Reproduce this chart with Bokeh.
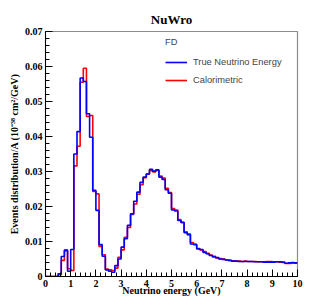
import numpy as np
from bokeh.plotting import figure
from bokeh.models import FixedTicker, Legend, LegendItem, Range1d, NumeralTickFormatter
from bokeh.embed import file_html
from bokeh.resources import INLINE

# ---- data ----
bin_width = 0.125
n_bins = 80
true_energy = [
    0.0, 0.0, 0.0, 0.0, 0.0008, 0.0057, 0.0074, 0.0015, 0.0077, 0.0350,
    0.0414, 0.0567, 0.0557, 0.0465, 0.0398, 0.0246, 0.0189, 0.0091, 0.0058, 0.0019,
    0.0015, 0.0012, 0.0031, 0.0050, 0.0084, 0.0108, 0.0146, 0.0179, 0.0215, 0.0241,
    0.0269, 0.0284, 0.0293, 0.0306, 0.0301, 0.0305, 0.0284, 0.0277, 0.0248, 0.0238,
    0.0190, 0.0187, 0.0160, 0.0155, 0.0125, 0.0121, 0.0093, 0.0091, 0.0079, 0.0077,
    0.0069, 0.0065, 0.0060, 0.0056, 0.0054, 0.0050, 0.0049, 0.0047, 0.0046, 0.0044,
    0.0044, 0.0043, 0.0043, 0.0043, 0.0043, 0.0043, 0.0042, 0.0042, 0.0042, 0.0041,
    0.0041, 0.0041, 0.0041, 0.0042, 0.0042, 0.0041, 0.0038, 0.0039, 0.0040, 0.0039,
]
calorimetric = [
    0.0, 0.0, 0.0, 0.0, 0.0005, 0.0046, 0.0076, 0.0022, 0.0017, 0.0316,
    0.0372, 0.0555, 0.0595, 0.0457, 0.0460, 0.0243, 0.0236, 0.0086, 0.0062, 0.0021,
    0.0019, 0.0017, 0.0024, 0.0055, 0.0076, 0.0112, 0.0140, 0.0177, 0.0207, 0.0235,
    0.0262, 0.0282, 0.0293, 0.0302, 0.0299, 0.0303, 0.0287, 0.0281, 0.0252, 0.0240,
    0.0194, 0.0190, 0.0163, 0.0154, 0.0128, 0.0119, 0.0097, 0.0092, 0.0080, 0.0076,
    0.0071, 0.0066, 0.0061, 0.0058, 0.0053, 0.0051, 0.0050, 0.0048, 0.0046, 0.0045,
    0.0044, 0.0044, 0.0043, 0.0044, 0.0043, 0.0043, 0.0043, 0.0042, 0.0042, 0.0042,
    0.0043, 0.0043, 0.0042, 0.0042, 0.0041, 0.0040, 0.0037, 0.0037, 0.0038, 0.0038,
]
x_major_ticks = [0, 1, 2, 3, 4, 5, 6, 7, 8, 9, 10]
y_major_ticks = [0.0, 0.01, 0.02, 0.03, 0.04, 0.05, 0.06, 0.07]
series_labels = ["True Neutrino Energy", "Calorimetric"]
legend_header = "FD"
title_text = "NuWro"
x_title = "Neutrino energy (GeV)"
y_title = "Events distribution/A (10\u207b\u00b3\u2078 cm\u00b2/GeV)"

edges = [i * bin_width for i in range(n_bins + 1)]
x_minor = [i * 0.2 for i in range(51)]
y_minor = [i * 0.002 for i in range(36)]

serif = "Liberation Serif"
sans = "Liberation Sans"

p = figure(width=315, height=307, output_backend="svg", toolbar_location=None,
           x_range=Range1d(0, 10), y_range=Range1d(0, 0.07),
           min_border_left=45, min_border_right=18, min_border_top=31, min_border_bottom=31,
           title=title_text)
p.background_fill_color = "white"
p.border_fill_color = "white"
p.outline_line_color = "#8c8c8c"
p.outline_line_width = 1.2
p.xgrid.visible = False
p.ygrid.visible = False

p.title.align = "center"
p.title.text_font = serif
p.title.text_font_style = "bold"
p.title.text_font_size = "13px"
p.title.standoff = 10
p.title.text_color = "black"

for ax, ticks, minor in ((p.xaxis[0], x_major_ticks, x_minor), (p.yaxis[0], y_major_ticks, y_minor)):
    ax.ticker = FixedTicker(ticks=ticks, minor_ticks=minor)
    ax.major_tick_in = 7
    ax.major_tick_out = 0
    ax.minor_tick_in = 4
    ax.minor_tick_out = 0
    ax.major_label_text_font = serif
    ax.major_label_text_font_style = "bold"
    ax.major_label_text_font_size = "10px"
    ax.major_label_text_color = "black"
    ax.axis_line_color = "black"
    ax.major_tick_line_color = "black"
    ax.minor_tick_line_color = "black"
    ax.major_label_standoff = 3
    ax.axis_label_text_font = serif
    ax.axis_label_text_font_style = "bold"
    ax.axis_label_text_font_size = "10px"
    ax.axis_label_text_color = "black"

p.yaxis[0].formatter = NumeralTickFormatter(format="0.[00]")
p.xaxis[0].axis_label = x_title
p.xaxis[0].axis_label_standoff = -5
p.yaxis[0].axis_label = y_title
p.yaxis[0].axis_label_standoff = 2

r_cal = p.step(x=edges, y=calorimetric + [calorimetric[-1]], mode="after",
               line_color="#ff0000", line_width=1.6)
r_true = p.step(x=edges, y=true_energy + [true_energy[-1]], mode="after",
                line_color="#0000ff", line_width=1.6)

legend = Legend(items=[LegendItem(label=series_labels[0], renderers=[r_true]),
                       LegendItem(label=series_labels[1], renderers=[r_cal])],
                location=(120, 187), title=legend_header)
legend.padding = 0
legend.margin = 0
legend.border_line_color = None
legend.background_fill_alpha = 0
legend.title_text_font = sans
legend.title_text_font_style = "normal"
legend.title_text_font_size = "9.3px"
legend.title_standoff = 6
legend.label_text_font = sans
legend.label_text_font_size = "9.3px"
legend.glyph_width = 22
legend.glyph_height = 18
legend.label_height = 18
legend.spacing = 0
legend.label_standoff = 6
p.add_layout(legend)

open("out.html", "w").write(file_html(p, INLINE))
